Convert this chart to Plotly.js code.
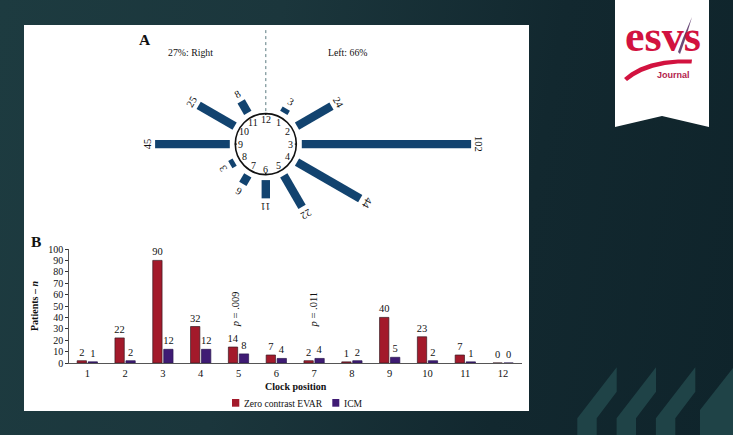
<!DOCTYPE html>
<html><head><meta charset="utf-8">
<script src="https://cdn.plot.ly/plotly-3.0.1.min.js"></script>
<style>
html,body{margin:0;padding:0;width:733px;height:435px;overflow:hidden;
background:linear-gradient(100deg,#1d3b40 0%,#1b363c 35%,#12282f 70%,#0f242b 100%);}
#g{width:733px;height:435px;}
</style></head><body><div id="g"></div>
<script>
const clockPositions=[1,2,3,4,5,6,7,8,9,10,11,12];
const clockLabels=clockPositions.map(String);
const dissectionCounts=[3,24,102,44,22,11,6,3,45,25,8];
const zeroContrast=[2,22,90,32,14,7,2,1,40,23,7,0];
const icm=[1,2,12,12,8,4,4,2,5,2,1,0];
const pNotes=[{pos:5,shift:-0.07,text:'<i>p</i> = .009'},{pos:7,shift:-0.03,text:'<i>p</i> = .011'}];
const seriesNames=['Zero contrast EVAR','ICM'];
const seriesColors=['#a31a2b','#3f1b74'];

const W=733,H=435;
const serif='"Liberation Serif",serif';
const ink='#111';
const CX=265.8,CY=144.1;
const fx=x=>x/W, fy=y=>1-y/H;
const poly=pts=>'M'+pts.map(p=>fx(p[0])+','+fy(p[1])).join('L')+'Z';
const rad=p=>p*Math.PI/6;
const R0=36,K=1.66;

const traces=[
 {type:'bar',name:seriesNames[0],x:clockPositions,y:zeroContrast,text:zeroContrast.map(String),
  textposition:'outside',cliponaxis:false,textangle:0,constraintext:'none',textfont:{family:serif,size:10.5,color:ink},
  marker:{color:seriesColors[0],line:{color:'#3a1a22',width:0.7}},xaxis:'x',yaxis:'y'},
 {type:'bar',name:seriesNames[1],x:clockPositions,y:icm,text:icm.map(String),
  textposition:'outside',cliponaxis:false,textangle:0,constraintext:'none',textfont:{family:serif,size:10.5,color:ink},
  marker:{color:seriesColors[1],line:{color:'#2a1850',width:0.7}},xaxis:'x',yaxis:'y'}
];
// Panel A: one thick line per clock position, length from its count
dissectionCounts.forEach((v,i)=>{
  const a=rad(clockPositions[i]);
  const r1=R0+v*K;
  traces.push({type:'scatter',mode:'lines',showlegend:false,hoverinfo:'skip',
    x:[R0*Math.sin(a),r1*Math.sin(a)],y:[R0*Math.cos(a),r1*Math.cos(a)],
    line:{color:'#12436f',width:8.4},xaxis:'x2',yaxis:'y2'});
});
// small ticks on the clock face at the quarter hours
[3,6,9,12].forEach(p=>{
  const a=rad(p);
  traces.push({type:'scatter',mode:'lines',showlegend:false,hoverinfo:'skip',
    x:[29*Math.sin(a),31*Math.sin(a)],y:[29*Math.cos(a),31*Math.cos(a)],
    line:{color:'#111',width:1.4},xaxis:'x2',yaxis:'y2'});
});

const ann=[];
const note=(x,y,text,size,extra)=>ann.push(Object.assign({x,y,text,xref:'x2',yref:'y2',showarrow:false,
  xanchor:'center',yanchor:'middle',font:{family:serif,size,color:ink}},extra||{}));
dissectionCounts.forEach((v,i)=>{
  const a=rad(clockPositions[i]);
  const r=R0+v*K+8;
  note(r*Math.sin(a),r*Math.cos(a),String(v),10.5,{textangle:clockPositions[i]*30});
});
clockPositions.forEach((p,i)=>{
  const a=rad(p);
  note(25*Math.sin(a),25*Math.cos(a),clockLabels[i],10);
});
const px=(x,y)=>[x-CX,CY-y];
note(...px(144.5,39.5),'<b>A</b>',15.5);
note(...px(36,241.5),'<b>B</b>',15.5);
note(...px(190.5,52),'27%: Right',9.8);
note(...px(347,52),'Left: 66%',9.8);
pNotes.forEach(n=>ann.push({x:n.pos+n.shift,y:47,xref:'x',yref:'y',text:n.text,showarrow:false,textangle:-90,
  xanchor:'center',yanchor:'middle',font:{family:serif,size:10.5,color:ink}}));
// legend entries
[242.7,342.7].forEach((x,i)=>ann.push({x:fx(x),y:fy(403),xref:'paper',yref:'paper',text:seriesNames[i],showarrow:false,
  xanchor:'left',yanchor:'middle',xshift:-1,font:{family:serif,size:9.6,color:ink}}));
// logo text
ann.push({x:fx(662.5),y:fy(37),xref:'paper',yref:'paper',text:'<b>esvs</b>',showarrow:false,xanchor:'center',yanchor:'middle',
  font:{family:serif,size:44,color:'#d2123f'}});
ann.push({x:fx(673.5),y:fy(75.5),xref:'paper',yref:'paper',text:'<b>Journal</b>',showarrow:false,xanchor:'center',yanchor:'middle',
  font:{family:'"Liberation Sans",sans-serif',size:9,color:'#b3224d'}});

const chev='#1f4347';
const pshape=(color,pts)=>({type:'path',xref:'paper',yref:'paper',layer:'below',fillcolor:color,line:{width:0},path:poly(pts)});
const shapes=[
 pshape('#ffffff',[[24,25],[529,25],[529,411],[24,411]]),
 pshape('#ffffff',[[615,0],[709,0],[709,127],[662,116],[615,127]]),
 ...[0,39.3,78.6].map(d=>pshape(chev,[[577.3+d,435],[577.3+d,418.3],[616.7+d,367.3],[616.7+d,391.7],[596.7+d,418.3],[596.7+d,435]])),
 pshape(chev,[[700,435],[700,410],[733,368],[733,435]]),
 pshape('#d2123f',[[624,78],[631,72.5],[640,67.5],[651,63.5],[664,60.8],[678,59.6],[692,59.5],[691.5,63.5],[678,63.5],[665,65],[653,67.8],[642,71.8],[634,76],[627,81]]),
 pshape('#6a4a78',[[678,52],[683,38],[692,17],[686,37],[680,54]]),
 pshape(seriesColors[0],[[232,399],[239.3,399],[239.3,406.7],[232,406.7]]),
 pshape(seriesColors[1],[[332.3,399],[339.3,399],[339.3,406.7],[332.3,406.7]]),
 {type:'circle',xref:'x2',yref:'y2',layer:'above',x0:-30.5,x1:30.5,y0:-30.5,y1:30.5,line:{color:'#111',width:1.6},fillcolor:'rgba(0,0,0,0)'},
 {type:'line',xref:'x2',yref:'y2',layer:'above',x0:0,x1:0,y0:33,y1:114,line:{color:'#5c7b80',width:1,dash:'dot'}}
];

const layout={
 width:W,height:H,margin:{l:0,r:0,t:0,b:0,pad:0},paper_bgcolor:'rgba(0,0,0,0)',plot_bgcolor:'rgba(0,0,0,0)',
 barmode:'group',bargap:0.42,bargroupgap:0.15,
 font:{family:serif,color:ink,size:10},
 xaxis:{domain:[fx(69.3),fx(522)],range:[0.524,12.5],tickmode:'array',tickvals:clockPositions,ticktext:clockLabels,
  ticks:'',showgrid:false,zeroline:false,showline:true,linecolor:'#555',linewidth:1,anchor:'y',
  tickfont:{family:serif,size:10.5,color:ink},title:{text:'<b>Clock position</b>',font:{family:serif,size:10,color:ink},standoff:5}},
 yaxis:{domain:[fy(363),fy(249)],range:[0,100],dtick:10,ticks:'outside',ticklen:3,tickcolor:'#333',tickwidth:1,
  showgrid:false,zeroline:false,showline:true,linecolor:'#555',linewidth:1,anchor:'x',
  tickfont:{family:serif,size:10,color:ink},title:{text:'<b>Patients – <i>n</i></b>',font:{family:serif,size:10,color:ink},standoff:7}},
 xaxis2:{domain:[0,1],range:[-CX,W-CX],visible:false,anchor:'y2',fixedrange:true},
 yaxis2:{domain:[0,1],range:[CY-H,CY],visible:false,anchor:'x2',fixedrange:true},
 showlegend:false,
 annotations:ann,shapes:shapes
};
Plotly.newPlot('g',traces,layout,{displayModeBar:false,staticPlot:true});
</script></body></html>
